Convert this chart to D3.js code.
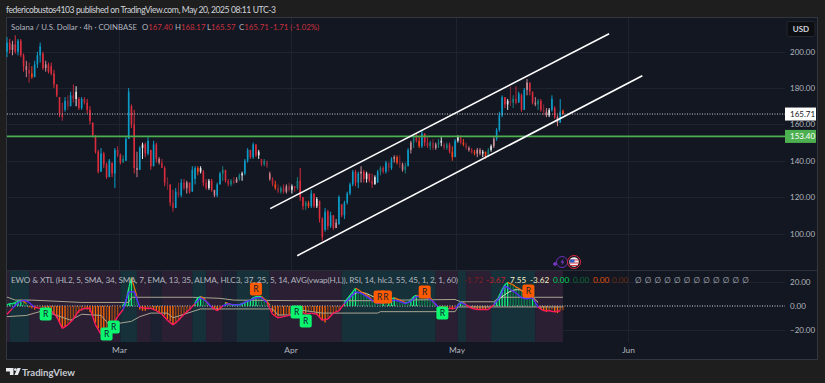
<!DOCTYPE html>
<html>
<head>
<meta charset="utf-8">
<title>Solana / U.S. Dollar</title>
<script src="https://d3js.org/d3.v7.min.js"></script>
<style>
	html, body { margin: 0; padding: 0; background: #1e1e1e; overflow: hidden; }
	text { font-family: Lato, "Noto Sans", sans-serif; }
	.axis path, .axis line { display: none; }
</style>
</head>
<body>
<div id="chart"></div>
<script>
// open, high, low, close per 12h step
var febCandles = [
	[200,208,197,205],[205,207,199,201],[201,206,198,204],[204,209,199,200],[200,207,198,206],[206,207,197,198],
	[198,199,189,192],[192,195,186,190],[190,194,183,188],[188,192,185,186],[186,195,186,193],[193,200,191,198],
	[198,205,194,203],[199,200,190,191],[191,195,189,193],[193,194,188,189],[192,194,187,188],[188,190,180,182],
	[182,182,175,176],[175,175,164,166],[166,172,162,164],[168,175,167,173],[173,176,168,170],[170,178,170,176],
	[176,182,172,174],[174,181,170,178],[174,175,168,169],[169,175,168,174],[174,175,171,172],[172,174,166,168],
	[168,170,160,162],[161,161,153,154],[154,154,144,145],[145,146,133,134],[134,147,134,144],[144,145,136,138],
	[138,139,130,131],[131,141,131,140],[139,139,131,133],[133,147,125,146],[146,148,142,143]
];
var marCandles = [
	[143,144,138,139],[139,143,139,141],[140,153,140,152],[152,180,152,178],[170,171,158,160],[160,168,133,136],
	[136,145,131,135],[135,148,135,147],[147,150,141,149],[149,150,142,144],[144,153,143,151],[146,146,135,137],
	[137,151,137,149],[149,150,139,141],[141,142,138,139],[139,141,136,136],[136,137,126,128],[128,131,124,127],
	[127,127,115,117],[117,124,112,114],[114,125,114,123],[123,128,120,121],[121,130,120,128],[128,130,124,125],
	[125,129,122,128],[128,128,122,123],[123,137,123,135],[130,137,127,136],[136,137,132,134],[134,137,133,136],
	[134,135,126,128],[128,130,124,125],[125,130,124,129],[129,130,123,124],[124,124,120,121],[121,128,120,127],
	[127,134,127,133],[133,137,129,135],[135,135,128,129],[129,130,126,127],[127,130,126,129],[129,131,127,128],
	[128,131,128,130],[130,133,129,132],[132,134,129,133],[133,141,132,140],[140,147,139,146],[146,146,141,142],
	[142,150,141,149],[149,149,142,143],[143,146,141,145],[141,141,137,138],[138,141,137,140],[140,140,136,137],
	[133,134,129,130],[130,131,126,127],[127,129,124,125],[125,127,122,123],[123,126,122,125],[125,127,122,123],
	[123,127,122,126],[126,128,123,124]
];
var aprCandles = [
	[124,127,122,126],[126,126,123,125],[125,131,124,129],[129,136,118,120],[120,120,113,115],[115,118,113,117],
	[117,118,114,115],[115,124,114,122],[122,122,114,115],[115,120,114,119],[118,118,106,108],[108,109,96,98],
	[102,114,101,112],[112,113,102,104],[104,112,103,110],[110,110,102,103],[103,108,103,106],[105,121,105,120],
	[116,116,109,110],[110,118,108,117],[117,123,116,122],[122,128,121,127],[127,135,126,134],[134,135,126,128],
	[128,134,125,133],[133,137,128,134],[134,135,128,130],[130,134,128,133],[133,133,128,129],[129,133,125,127],
	[127,132,127,131],[128,135,128,134],[134,137,132,136],[136,137,133,134],[134,140,133,139],[139,139,134,136],
	[136,142,135,141],[141,143,139,142],[142,143,138,139],[139,143,136,138],[138,139,134,135],[135,139,133,137],
	[137,147,137,146],[146,151,144,150],[150,154,147,153],[153,155,150,151],[151,153,147,148],[148,157,147,155],
	[155,155,148,150],[150,153,147,148],[148,151,146,150],[150,152,146,147],[147,150,146,149],[149,152,147,150],
	[150,153,148,151],[149,150,146,147],[147,150,146,149],[149,150,144,145],[145,148,140,142]
];
var mayCandles = [
	[142,152,142,151],[151,154,150,153],[153,154,149,150],[150,152,148,149],[149,150,146,147],[147,148,145,146],
	[146,147,144,145],[145,146,143,144],[144,147,142,146],[146,147,143,144],[144,146,142,145],[145,145,141,142],
	[142,147,142,146],[146,149,145,148],[148,153,147,152],[152,158,151,157],[157,167,156,165],[165,176,164,175],
	[175,175,169,171],[171,174,168,173],[173,181,170,172],[172,176,169,174],[174,181,171,172],[172,178,172,177],
	[176,177,167,168],[168,180,168,179],[179,185,176,183],[183,183,176,178],[178,178,171,172],[172,175,170,171],
	[171,174,168,173],[173,174,167,168],[168,171,165,167],[167,169,164,165],[165,169,164,168],[168,176,167,174],
	[169,170,163,164],[164,165,159,161],[161,174,161,167],[167.40,168.17,165.57,165.71]
];
var priceTicks = [100, 120, 140, 160, 180, 200];
var oscTicks = [-20, 0, 20];
var monthTicks = ["2025-03-01", "2025-04-01", "2025-05-01", "2025-06-01"];
var lastClose = 165.71;
var supportLevel = 153.40;
// channel lines: date, price
var upperChannel = [["2025-03-28T08:00Z", 113.7], ["2025-05-28T14:00Z", 209.9]];
var lowerChannel = [["2025-04-02T05:00Z", 87.8], ["2025-06-03T14:00Z", 186.8]];

// EWO histogram, same 12h step as the candles
var ewoValues = [
	1,2,2,3,4,5,4,2,-1,-2,-3,-2,-1,-1,-2,-3,-5,-7,-10,-14,-18,-18,-15,-13,-10,-8,-6,-4,-3,-3,
	-5,-9,-14,-19,-22,-23,-22,-22,-19,-16,-8,-2,1,4,15,24,16,8,-3,-4,-4,-3,-2,-3,-4,-5,-6,-8,-11,-13,
	-16,-15,-12,-9,-7,-5,-3,0,3,7,8,7,4,1,-1,-3,-4,-3,0,3,2,1,1,1,1,2,3,4,5,7,
	8,8,8,6,4,1,-5,-8,-9,-8,-8,-7,-7,-6,-5,-4,-4,-6,-6,-5,-4,-5,-7,-9,-12,-14,-10,-7,-6,-5,
	-3,0,3,6,9,12,15,14,12,11,9,8,5,3,3,3,4,4,5,6,7,6,5,4,3,3,5,8,9,8,
	8,8,8,7,4,1,-2,-3,-3,-3,-2,-3,-2,1,3,3,1,-1,-2,-2,-3,-3,-3,-3,-2,-1,1,4,9,14,
	18,20,19,18,16,15,13,11,9,7,8,4,-1,-3,-4,-5,-4,-3,-5,-6,-4,-3.62
];
// XTL line, one value a day
var xtlValues = [
	-7,-2,3,5,3,-1,-2,-2,-4,-9,-19,-16,-11,-4,-2,-2,-16,-24,-21,-17,-9,-3,12,12,-1,-2,-2,-4,-7,-12,
	-16,-12,-7,-3,2,7,4,-1,-4,0,2,1,1,3,5,7,7,3,-7,-10,-9,-8,-5,-4,-7,-6,-7,-12,-11,-6,
	-4,2,7,12,11,8,5,2,3,4,5,4,2,4,8,8,7,4,-1,-3,-2,-2,3,1,-2,-3,-3,-3,1,7,
	17,14,11,7,6,7,-1,-4,-4,-5,-4
];
// bands: candle index, value
var upperBand = [[0,7.6],[3,5],[9,5],[27,3],[44,3],[45,7.4],[67,7.4],[77,6.5],[82,5],[106,4.5],[133,4.5],[134,2.5],[141,5],[162,5.5],[164,3.6],[176,3.6],[178,7.4],[201,7.4]];
var lowerBand = [[0,-9],[7,-8],[13,-4],[16,-6.4],[23,-12],[27,-7],[34,-8],[37,-16],[45,-13],[48,-9],[52,-6],[58,-6],[60,-10],[70,-2.5],[96,-2.5],[98,-7.6],[103,-7.6],[106,-3.4],[114,-6],[134,-6],[135,-4.8],[162,-4.8],[163,-0.8],[201,-0.8]];
var almaFirst = [[122,2],[125,10],[127,12],[130,11],[133,7],[135,5]];
var almaSecond = [[176,2],[180,10],[183,14],[186,14],[189,10],[192,3]];
// background zones: first candle index, state
var zoneStarts = [0, 1, 8, 41, 47, 52, 56, 67, 72, 78, 83, 95, 121, 155, 163, 166, 175, 191, 201];
var zoneStates = ["bear", "bull", "bear", "bull", "bear", "flat", "bear", "bull", "bear", "flat", "bull", "bear", "bull", "bear", "bull", "bear", "bull", "bear"];
// R signals: candle index, value
var buySignals = [[14,-6.8],[36,-23.7],[38.6,-17.8],[104.7,-5],[108,-12.7],[157.4,-6]];
var sellSignals = [[90,14.4],[134.7,7.6],[137,7.6],[151,11.9],[188.5,12.7]];
var legendValues = [
	{t: "-1.72", c: "#7a1f22", x: 464}, {t: "-3.67", c: "#c2202c", x: 486}, {t: "7.55", c: "#f5efc8", x: 510},
	{t: "-3.62", c: "#f5efc8", x: 530}, {t: "0.00", c: "#00d45a", x: 553}, {t: "0.00", c: "#0a6b36", x: 573},
	{t: "0.00", c: "#e2500c", x: 593}, {t: "0.00", c: "#6b2c0e", x: 612}
];
var emptySlots = 12;

var svg = d3.select("#chart").append("svg").attr("width", 825).attr("height", 383);
var right = 785, paneTop = 270, paneBottom = 342;

svg.append("rect").attr("x", 6.5).attr("y", 17.5).attr("width", 811).attr("height", 342)
	.attr("fill", "#131722").attr("stroke", "#33363f");

var firstCandle = Date.UTC(2025, 1, 8, 18);
var x = d3.scaleUtc().domain([new Date("2025-03-01"), new Date("2025-06-01")]).range([119, 628]);
var y = d3.scaleLinear().domain([100, 200]).range([233.5, 51.7]);
var yOsc = d3.scaleLinear().domain([-20, 20]).range([329.6, 282.4]);

function timeOf(i){
	return new Date(firstCandle + i * 12 * 3600 * 1000);
}
function xAt(i){
	return x(timeOf(i));
}

/* grid */
var grid = svg.append("g").attr("stroke", "#1f232f").attr("stroke-width", 1);
grid.selectAll("line.h").data(priceTicks).enter().append("line")
	.attr("x1", 7).attr("x2", right)
	.attr("y1", function(d){ return Math.round(y(d)) + .5; })
	.attr("y2", function(d){ return Math.round(y(d)) + .5; });
grid.selectAll("line.o").data(oscTicks.filter(function(d){ return d; })).enter().append("line")
	.attr("x1", 7).attr("x2", right)
	.attr("y1", function(d){ return Math.round(yOsc(d)) + .5; })
	.attr("y2", function(d){ return Math.round(yOsc(d)) + .5; });
grid.selectAll("line.v").data(monthTicks).enter().append("line")
	.attr("x1", function(d){ return Math.round(x(new Date(d))) + .5; })
	.attr("x2", function(d){ return Math.round(x(new Date(d))) + .5; })
	.attr("y1", 18).attr("y2", paneBottom);
svg.append("line").attr("x1", 7).attr("x2", 817).attr("y1", paneTop + .5).attr("y2", paneTop + .5)
	.attr("stroke", "#2a2e39");

/* candles */
var candles = febCandles.concat(marCandles, aprCandles, mayCandles);
function tone(c, i){
	var body = c[3] - c[0];
	if(body >= 5) return "#0c9cc8";
	if(body > 0) return ["#14807f", "#e4e8e8", "#c98f98"][i % 3];
	if(body <= -4) return "#d92c3c";
	return ["#b8263a", "#f5431f", "#852838", "#cf7d86"][i % 4];
}
var candleG = svg.append("g");
candleG.selectAll("line").data(candles).enter().append("line")
	.attr("x1", function(d, i){ return xAt(i); })
	.attr("x2", function(d, i){ return xAt(i); })
	.attr("y1", function(d){ return y(d[1]); })
	.attr("y2", function(d){ return y(d[2]); })
	.attr("stroke", tone).attr("stroke-width", 1);
candleG.selectAll("rect").data(candles).enter().append("rect")
	.attr("x", function(d, i){ return xAt(i) - .8; })
	.attr("width", 1.6)
	.attr("y", function(d){ return y(Math.max(d[0], d[3])); })
	.attr("height", function(d){ return Math.max(1, Math.abs(y(d[0]) - y(d[3]))); })
	.attr("fill", tone);

/* levels */
svg.append("line").attr("x1", 7).attr("x2", right).attr("y1", y(lastClose)).attr("y2", y(lastClose))
	.attr("stroke", "#c8ccd2").attr("stroke-dasharray", "1 1.5");
svg.append("line").attr("x1", 7).attr("x2", right).attr("y1", y(supportLevel)).attr("y2", y(supportLevel))
	.attr("stroke", "#4caf50").attr("stroke-width", 1.6);

/* channel */
var channelLine = d3.line()
	.x(function(d){ return x(new Date(d[0])); })
	.y(function(d){ return y(d[1]); });
svg.selectAll("path.channel").data([upperChannel, lowerChannel]).enter().append("path")
	.attr("class", "channel").attr("d", channelLine).attr("fill", "none")
	.attr("stroke", "#ffffff").attr("stroke-width", 1.6);

/* indicator pane */
var zoneFill = {bull: "#17313a", bear: "#2a1f33", flat: "#1b2130"};
svg.append("g").selectAll("rect").data(zoneStates).enter().append("rect")
	.attr("x", function(d, i){ return i ? xAt(zoneStarts[i]) : 7; })
	.attr("width", function(d, i){ return xAt(zoneStarts[i + 1]) - (i ? xAt(zoneStarts[i]) : 7); })
	.attr("y", paneTop + 1).attr("height", paneBottom - paneTop - 1)
	.attr("fill", function(d){ return zoneFill[d]; });

svg.append("line").attr("x1", 7).attr("x2", right).attr("y1", yOsc(0)).attr("y2", yOsc(0))
	.attr("stroke", "#d6d8dc").attr("stroke-dasharray", "1 1.5");

svg.append("g").selectAll("line").data(ewoValues).enter().append("line")
	.attr("x1", function(d, i){ return xAt(i); })
	.attr("x2", function(d, i){ return xAt(i); })
	.attr("y1", yOsc(0))
	.attr("y2", function(d){ return yOsc(d); })
	.attr("stroke-width", 1.3)
	.attr("stroke", function(d, i){
		var rising = i > 0 && d > ewoValues[i - 1];
		if(d >= 0) return rising ? "#12f07c" : "#0d7a4a";
		return rising ? "#a04a10" : "#ff6a00";
	});

var bandLine = d3.line()
	.x(function(d){ return xAt(d[0]); })
	.y(function(d){ return yOsc(d[1]); });
svg.selectAll("path.band").data([upperBand, lowerBand]).enter().append("path")
	.attr("class", "band").attr("d", bandLine).attr("fill", "none")
	.attr("stroke", "#a8a590").attr("stroke-width", 1);
bandLine.curve(d3.curveBasis);
svg.selectAll("path.alma").data([almaFirst, almaSecond]).enter().append("path")
	.attr("class", "alma").attr("d", bandLine).attr("fill", "none")
	.attr("stroke", "#d9e4b8").attr("stroke-width", 1);

// top edge of the positive histogram
ewoValues.forEach(function(d, i){
	if(i == 0 || d <= 0 || ewoValues[i - 1] <= 0) return;
	svg.append("line")
		.attr("x1", xAt(i - 1)).attr("y1", yOsc(ewoValues[i - 1]))
		.attr("x2", xAt(i)).attr("y2", yOsc(d))
		.attr("stroke", d >= ewoValues[i - 1] ? "#12f07c" : "#ff6a00").attr("stroke-width", 1.2);
});

// XTL line, blue over zero and pink under it
xtlValues.forEach(function(d, k){
	if(k == 0) return;
	var prev = xtlValues[k - 1];
	svg.append("line")
		.attr("x1", xAt((k - 1) * 2)).attr("y1", yOsc(prev))
		.attr("x2", xAt(k * 2)).attr("y2", yOsc(d))
		.attr("stroke", (d + prev) / 2 >= 0 ? "#5a2cff" : "#ff1a5e").attr("stroke-width", 1.4);
});

/* R labels: boxes first so two close ones keep both letters */
function drawSignals(list, fill){
	var layer = svg.append("g");
	function place(d){ return "translate(" + xAt(d[0]) + "," + yOsc(d[1]) + ")"; }
	layer.selectAll("rect").data(list).enter().append("rect")
		.attr("transform", place)
		.attr("x", -6).attr("y", -6.5).attr("width", 12).attr("height", 13).attr("rx", 2).attr("fill", fill);
	layer.selectAll("text").data(list).enter().append("text")
		.attr("transform", place)
		.attr("text-anchor", "middle").attr("y", 3).attr("font-size", 8.5)
		.attr("fill", "#123").text("R");
}
drawSignals(buySignals, "#0bf56f");
drawSignals(sellSignals, "#ff5a00");

/* axes */
var labelColor = "#b2b5be";
var priceAxis = d3.axisRight(y).tickValues(priceTicks).tickSize(0).tickPadding(0).tickFormat(d3.format(".2f"));
svg.append("g").attr("class", "axis").attr("transform", "translate(790,0)").call(priceAxis)
	.selectAll("text").attr("fill", labelColor).attr("font-size", 8);
var oscAxis = d3.axisRight(yOsc).tickValues(oscTicks).tickSize(0).tickPadding(0).tickFormat(d3.format(".2f"));
svg.append("g").attr("class", "axis").attr("transform", "translate(790,0)").call(oscAxis)
	.selectAll("text").attr("fill", labelColor).attr("font-size", 8);
var timeAxis = d3.axisBottom(x).tickValues(monthTicks.map(function(d){ return new Date(d); }))
	.tickSize(0).tickPadding(0).tickFormat(d3.utcFormat("%b"));
svg.append("g").attr("class", "axis").attr("transform", "translate(0,347)").call(timeAxis)
	.selectAll("text").attr("fill", labelColor).attr("font-size", 8.4);

/* price tags */
function priceTag(v, fill, color){
	svg.append("rect").attr("x", 785).attr("y", y(v) - 6.5).attr("width", 31).attr("height", 13).attr("fill", fill);
	svg.append("text").attr("x", 790).attr("y", y(v) + 3).attr("font-size", 8).attr("fill", color)
		.text(v.toFixed(2));
}
priceTag(lastClose, "#ffffff", "#131722");
priceTag(supportLevel, "#4caf50", "#ffffff");

svg.append("rect").attr("x", 787).attr("y", 21.5).attr("width", 28).attr("height", 15).attr("rx", 2)
	.attr("fill", "#0c0e12").attr("stroke", "#23262e");
svg.append("text").attr("x", 801).attr("y", 32).attr("text-anchor", "middle").attr("font-size", 8)
	.attr("font-weight", 700).attr("fill", "#d1d4dc").text("USD");

/* header + legends */
svg.append("text").attr("x", 6).attr("y", 12.5).attr("font-size", 8.6).attr("fill", "#d1d4dc")
	.attr("textLength", 270).attr("lengthAdjust", "spacing")
	.text("federicobustos4103 published on TradingView.com, May 20, 2025 08:11 UTC-3");
var legend = svg.append("g").attr("font-size", 7.8).attr("fill", labelColor);
legend.append("text").attr("x", 11).attr("y", 30).attr("textLength", 126).attr("lengthAdjust", "spacing")
	.text("Solana / U.S. Dollar · 4h · COINBASE");
[["O", "167.40", 142], ["H", "168.17", 175], ["L", "165.57", 207], ["C", "165.71", 239]].forEach(function(p){
	var t = legend.append("text").attr("x", p[2]).attr("y", 30);
	t.append("tspan").text(p[0]);
	t.append("tspan").attr("fill", "#c9303e").text(p[1]);
});
legend.append("text").attr("x", 270).attr("y", 30).attr("fill", "#c9303e").text("-1.71 (-1.02%)");

svg.append("text").attr("x", 11).attr("y", 282.5).attr("font-size", 8.2).attr("fill", labelColor)
	.attr("textLength", 447).attr("lengthAdjust", "spacing")
	.text("EWO & XTL (HL2, 5, SMA, 34, SMA, 7, EMA, 13, 35, ALMA, HLC3, 37, 25, 5, 14, AVG(vwap(H,L)), RSI, 14, hlc3, 55, 45, 1, 2, 1, 60)");
svg.append("g").selectAll("text").data(legendValues).enter().append("text")
	.attr("x", function(d){ return d.x; }).attr("y", 282.5).attr("font-size", 8.2)
	.attr("fill", function(d){ return d.c; }).text(function(d){ return d.t; });
svg.append("g").selectAll("text").data(d3.range(emptySlots)).enter().append("text")
	.attr("x", function(d){ return 635 + d * 9.75; }).attr("y", 282.5).attr("font-size", 8.2)
	.attr("fill", "#8a8e98").text("Ø");

/* event icons */
svg.append("circle").attr("cx", 562).attr("cy", 262).attr("r", 5.5).attr("fill", "#131722").attr("stroke", "#6a2fb8");
svg.append("path").attr("d", "M563.5 258.5l-3 4h2l-1 3 3-4h-2z").attr("fill", "#7e3bd0");
svg.append("path").attr("d", "M553 264h4M555 262v4").attr("stroke", "#7e3bd0").attr("stroke-width", 1.4);
svg.append("circle").attr("cx", 574).attr("cy", 262).attr("r", 6.5).attr("fill", "#131722").attr("stroke", "#d8283c");
svg.append("circle").attr("cx", 574).attr("cy", 262).attr("r", 4.8).attr("fill", "#f0f0f0");
svg.append("path").attr("d", "M569.6 260h8.8M569.4 263h9.2M570.4 265.5h7.2").attr("stroke", "#e0323c").attr("stroke-width", 1.2);
svg.append("path").attr("d", "M570 259.5h4.5v3h-5z").attr("fill", "#2f5fc4");

/* footer logo */
svg.append("path").attr("d", "M6 368h7.5v7h-3.6v-3.6H6zM14.5 375l2.9-7h3.4l-2.9 7z").attr("fill", "#e8e9ec");
svg.append("circle").attr("cx", 15.4).attr("cy", 369.6).attr("r", 1.4).attr("fill", "#e8e9ec");
svg.append("text").attr("x", 22).attr("y", 375.5).attr("font-size", 9.6).attr("font-weight", 700)
	.attr("fill", "#c8cbd2").text("TradingView");
</script>
</body>
</html>
